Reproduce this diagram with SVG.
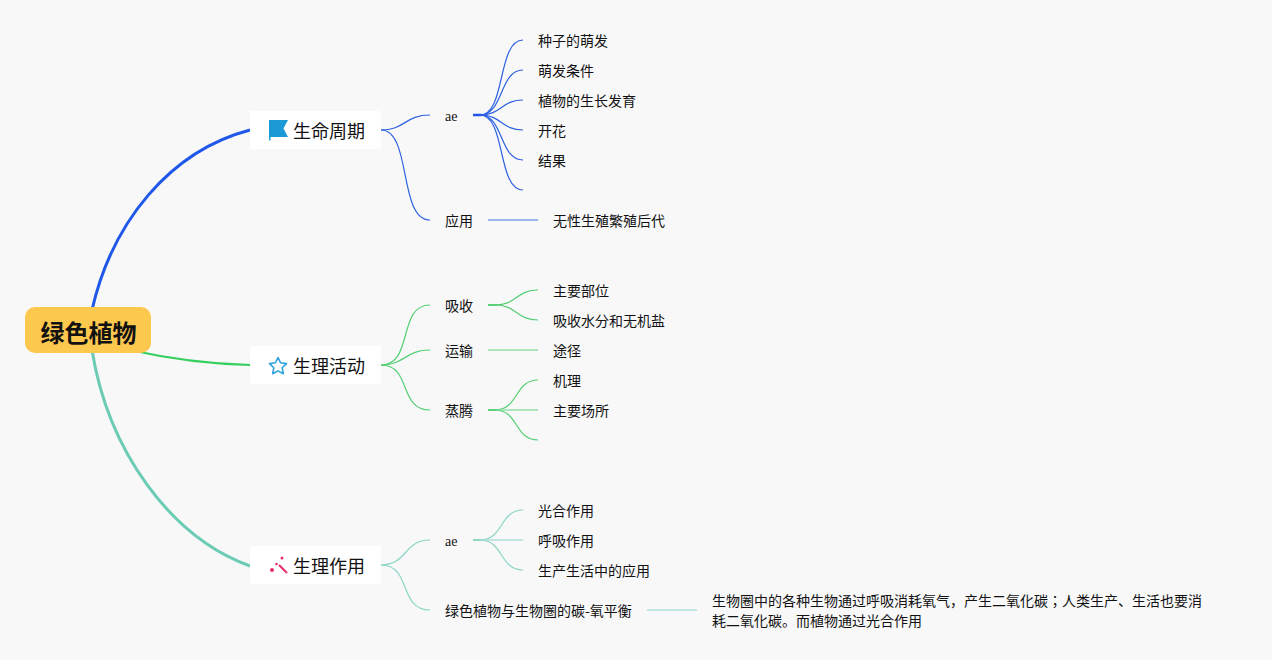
<svg xmlns="http://www.w3.org/2000/svg" width="1272" height="660" viewBox="0 0 1272 660">
<style>
text{font-family:"Noto Sans CJK JP","Noto Sans CJK SC",sans-serif;fill:#111}
.t{font-size:14px}
.l{font-family:"Liberation Serif",serif;font-size:14px}
.b{font-size:18px}
.r{font-size:24px;font-weight:700}
.w{fill:#fff}
#connectors path{fill:none}
.c1{stroke:#2f62e0;stroke-width:1.2}
.c2{stroke:#55cf75;stroke-width:1.2}
.c3{stroke:#8ad6c4;stroke-width:1.2}
.s1{stroke:#7f9de8;stroke-width:1.5}
.s2{stroke:#96e0a8;stroke-width:1.5}
.s3{stroke:#b0e2d8;stroke-width:1.5}
</style>
<rect width="1272" height="660" fill="#f8f8f9"/>
<g id="connectors">
<path d="M92 310C112 222 170 151 250 130" stroke="#1f57e8" stroke-width="3"/>
<path d="M130 350C170 359 210 364 250 365" stroke="#35cf5e" stroke-width="2"/>
<path d="M92 350C108 450 170 537 250 566" stroke="#6ccbb4" stroke-width="3"/>
<path class="c1" d="M381 130C405 130 405 115 430 115"/>
<path class="c1" d="M381 130C412 130 398 220 430 220"/>
<path d="M473 115H482" stroke="#1f57e8" stroke-width="2.500"/>
<path class="c1" d="M480 115C506 115 497 40 523 40"/>
<path class="c1" d="M480 115C504 115 499 70 523 70"/>
<path class="c1" d="M480 115C502 115 501 100 523 100"/>
<path class="c1" d="M480 115C502 115 501 130 523 130"/>
<path class="c1" d="M480 115C504 115 499 160 523 160"/>
<path class="c1" d="M480 115C506 115 497 190 523 190"/>
<path class="s1" d="M488 220H538"/>
<path class="c2" d="M381 365C414 365 397 305 430 305"/>
<path class="c2" d="M381 365C405 365 405 350 430 350"/>
<path class="c2" d="M381 365C412 365 398 410 430 410"/>
<path d="M488 305H497" stroke="#5cd07a" stroke-width="2"/>
<path class="c2" d="M495 305C517 305 516 290 538 290"/>
<path class="c2" d="M495 305C517 305 516 320 538 320"/>
<path class="s2" d="M488 350H538"/>
<path d="M488 410H497" stroke="#5cd07a" stroke-width="2"/>
<path class="c2" d="M495 410C519 410 514 380 538 380"/>
<path class="s2" d="M495 410H538"/>
<path class="c2" d="M495 410C519 410 514 440 538 440"/>
<path class="c3" d="M381 565C408 565 403 540 430 540"/>
<path class="c3" d="M381 565C412 565 398 610 430 610"/>
<path d="M473 540H482" stroke="#90d8c6" stroke-width="2"/>
<path class="c3" d="M480 540C504 540 499 510 523 510"/>
<path class="s3" d="M480 540H523"/>
<path class="c3" d="M480 540C504 540 499 570 523 570"/>
<path class="s3" d="M647 610H697"/>
</g>
<g id="root"><rect x="25" y="307" width="126" height="46" rx="10" fill="#fdc84e"/><text class="r" x="40.500" y="342">绿色植物</text></g>
<g id="branch1"><rect class="w" x="250" y="111" width="131" height="38" rx="2"/>
<path d="M269 120H288L283.500 128.500L288 137H270.500V140.500H269Z" fill="#1c9ad6"/>
<text class="b" x="293" y="138">生命周期</text></g>
<g id="branch2"><rect class="w" x="250" y="346" width="131" height="38" rx="2"/>
<path d="M278 357.500L280.600 362.800L286.500 363.600L282.200 367.800L283.300 373.700L278 370.900L272.700 373.700L273.800 367.800L269.500 363.600L275.400 362.800Z" fill="none" stroke="#2ea3dc" stroke-width="1.600" stroke-linejoin="round"/>
<text class="b" x="293" y="373">生理活动</text></g>
<g id="branch3"><rect class="w" x="250" y="546" width="131" height="38" rx="2"/>
<path d="M279 565L287 573" stroke="#e8306e" stroke-width="2.200" fill="none"/>
<circle cx="282" cy="558" r="1.500" fill="#e8306e"/><circle cx="272" cy="570" r="2" fill="#e8306e"/><circle cx="276.500" cy="564" r="1.300" fill="#e8306e"/>
<text class="b" x="293" y="573">生理作用</text></g>
<g id="n-ae1"><text class="l" x="445" y="121">ae</text></g>
<g id="n-seed"><text class="t" x="538" y="46">种子的萌发</text></g>
<g id="n-cond"><text class="t" x="538" y="76">萌发条件</text></g>
<g id="n-grow"><text class="t" x="538" y="106">植物的生长发育</text></g>
<g id="n-flower"><text class="t" x="538" y="136">开花</text></g>
<g id="n-fruit"><text class="t" x="538" y="166">结果</text></g>
<g id="n-app"><text class="t" x="445" y="226">应用</text></g>
<g id="n-asex"><text class="t" x="553" y="226">无性生殖繁殖后代</text></g>
<g id="n-absorb"><text class="t" x="445" y="311">吸收</text></g>
<g id="n-part"><text class="t" x="553" y="296">主要部位</text></g>
<g id="n-water"><text class="t" x="553" y="326">吸收水分和无机盐</text></g>
<g id="n-trans"><text class="t" x="445" y="356">运输</text></g>
<g id="n-path"><text class="t" x="553" y="356">途径</text></g>
<g id="n-evap"><text class="t" x="445" y="416">蒸腾</text></g>
<g id="n-mech"><text class="t" x="553" y="386">机理</text></g>
<g id="n-site"><text class="t" x="553" y="416">主要场所</text></g>
<g id="n-ae2"><text class="l" x="445" y="546">ae</text></g>
<g id="n-photo"><text class="t" x="538" y="516">光合作用</text></g>
<g id="n-resp"><text class="t" x="538" y="546">呼吸作用</text></g>
<g id="n-use"><text class="t" x="538" y="576">生产生活中的应用</text></g>
<g id="n-balance"><text class="t" x="445" y="616">绿色植物与生物圈的碳-氧平衡</text></g>
<g id="n-desc"><text class="t" x="712" y="606">生物圈中的各种生物通过呼吸消耗氧气，产生二氧化碳；人类生产、生活也要消</text><text class="t" x="712" y="626">耗二氧化碳。而植物通过光合作用</text></g>
</svg>
